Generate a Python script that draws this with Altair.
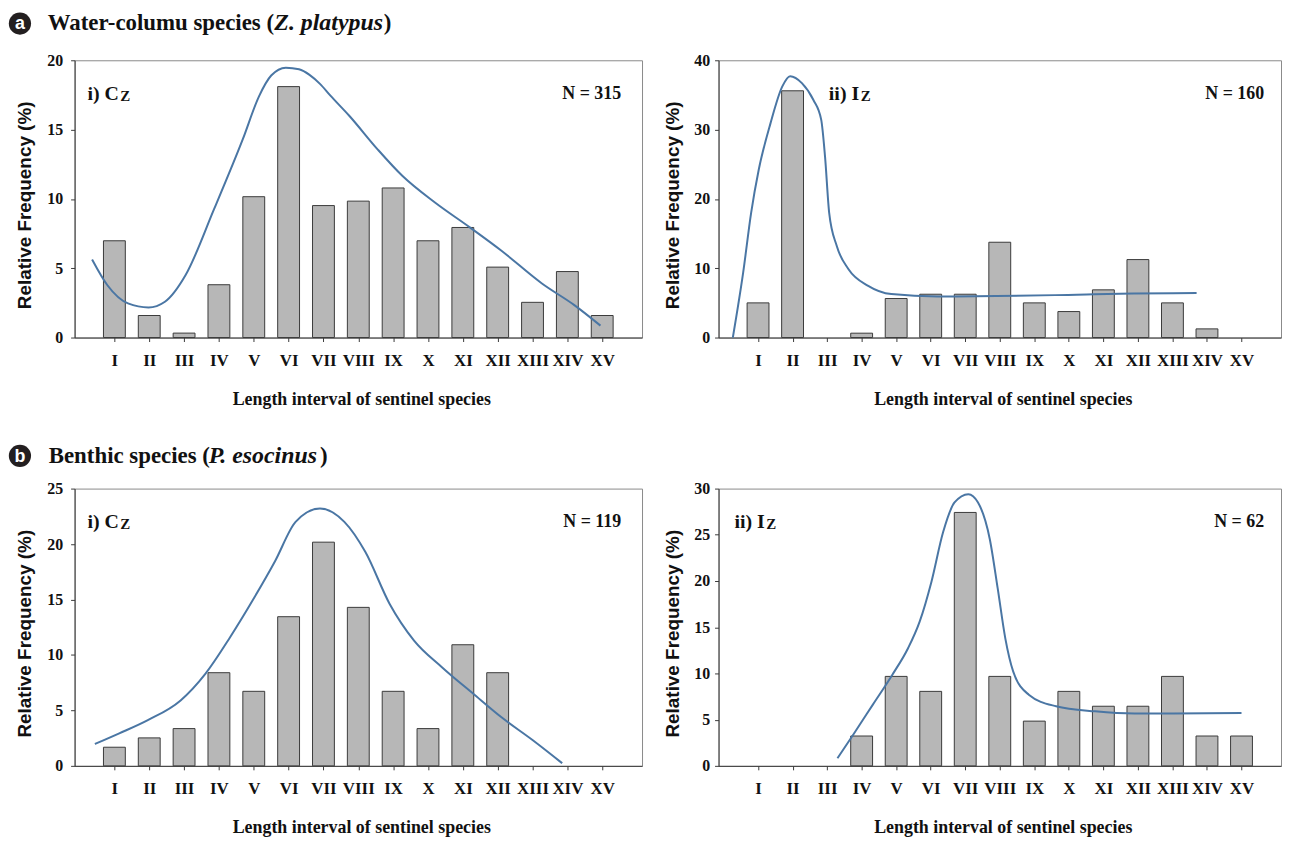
import altair as alt
import pandas as pd

# ---------------- data ----------------
ROMAN = ["I", "II", "III", "IV", "V", "VI", "VII", "VIII", "IX", "X",
         "XI", "XII", "XIII", "XIV", "XV"]
CLASS_POS = list(range(1, 16))

# (a) Water-column species, i) Cz  N = 315
A_CZ = [6.98, 1.59, 0.32, 3.81, 10.16, 18.10, 9.52, 9.84, 10.79, 6.98,
        7.94, 5.08, 2.54, 4.76, 1.59]
A_CZ_FIT_X = [0.36, 0.8, 1.39, 1.98, 2.45, 3.04, 3.86, 4.68, 5.15, 5.5, 5.92,
              6.3, 6.6, 6.9, 7.2, 7.74, 8.56, 9.27, 10.2, 11.2, 12.1, 13.27,
              14.2, 14.95]
A_CZ_FIT_Y = [5.63, 3.77, 2.46, 2.17, 2.58, 4.49, 9.26, 14.27, 17.4, 18.9, 19.47,
              19.35, 18.95, 18.3, 17.45, 16.0, 13.56, 11.65, 9.74, 7.95, 6.28,
              3.9, 2.34, 0.86]

# (a) ii) Iz  N = 160
A_IZ = [5.0, 35.6, 0.0, 0.63, 5.63, 6.25, 6.25, 13.75, 5.0, 3.75,
        6.88, 11.25, 5.0, 1.25, 0.0]
A_IZ_FIT_X = [0.27, 0.57, 0.8, 1.02, 1.36, 1.7, 1.93, 2.27, 2.6, 2.83, 2.94,
              3.06, 3.28, 3.62, 4.19, 4.86, 6.2, 7.9, 9.6, 11.87, 13.7]
A_IZ_FIT_Y = [0.0, 9.4, 18.0, 24.2, 30.9, 36.2, 37.7, 36.7, 34.3, 31.4, 26.1,
              18.0, 13.2, 9.86, 7.46, 6.27, 5.93, 5.98, 6.12, 6.36, 6.41]

# (b) Benthic species, i) Cz  N = 119
B_CZ = [1.68, 2.52, 3.36, 8.40, 6.72, 13.45, 20.17, 14.29, 6.72, 3.36,
        10.92, 8.40, 0.0, 0.0, 0.0]
B_CZ_FIT_X = [0.44, 1.14, 1.96, 2.9, 3.61, 4.32, 5.02, 5.61, 6.2, 6.9, 7.6,
              8.2, 8.9, 9.6, 10.4, 11.3, 12.1, 13.0, 13.85]
B_CZ_FIT_Y = [1.97, 2.93, 4.12, 5.9, 8.3, 11.6, 15.2, 18.45, 22.0, 23.2, 22.0,
              19.3, 14.6, 11.3, 8.9, 6.5, 4.4, 2.33, 0.24]

# (b) ii) Iz  N = 62
B_IZ = [0.0, 0.0, 0.0, 3.23, 9.68, 8.06, 27.42, 9.68, 4.84, 8.06,
        6.45, 6.45, 9.68, 3.23, 3.23]
B_IZ_FIT_X = [3.3, 3.76, 4.32, 4.89, 5.34, 5.68, 6.02, 6.36, 6.69, 7.09, 7.37,
              7.71, 7.94, 8.16, 8.39, 8.84, 9.63, 10.76, 11.9, 13.02, 15.0]
B_IZ_FIT_Y = [0.82, 3.4, 6.6, 9.86, 12.7, 15.6, 19.9, 25.3, 28.5, 29.4, 28.5,
              24.55, 19.2, 13.8, 10.2, 7.7, 6.45, 5.9, 5.66, 5.66, 5.73]

X_TITLE = "Length interval of sentinel species"
Y_TITLE = "Relative Frequency (%)"

# ---------------- style ----------------
SERIF = "Liberation Serif"
SANS = "Liberation Sans"
BAR_FILL = "#b7b7b7"
BAR_STROKE = "#3a3a3a"
LINE_COLOR = "#4a76a4"
INK = "#111111"

LABEL_EXPR = "[" + ",".join("'%s'" % r for r in ROMAN) + "][datum.value - 1]"

LEFT_W, RIGHT_W, PANEL_H = 571, 566, 279


def txt(s, x, y, size, font=SERIF, style="normal", align="left",
        baseline="alphabetic", color=INK, weight="bold"):
    return alt.Chart(pd.DataFrame({"t": [s]})).mark_text(
        align=align, baseline=baseline, font=font, fontSize=size,
        fontWeight=weight, fontStyle=style, color=color
    ).encode(text="t:N", x=alt.value(x), y=alt.value(y))


def header(letter, parts, y):
    badge = alt.Chart(pd.DataFrame({"t": [letter]})).mark_point(
        shape="circle", filled=True, size=500, color="#231f20", opacity=1
    ).encode(x=alt.value(-55), y=alt.value(y))
    layers = [badge, txt(letter, -55, y + 1, 18, font=SANS, align="center",
                         baseline="middle", color="white")]
    for s, x, style, size in parts:
        layers.append(txt(s, x, y, size, style=style, baseline="middle"))
    return layers


def panel(values, fit_x, fit_y, ymax, ystep, width, tag_main, tag_x, sub_x,
          n_text, n_right, ytitle_x, ylabel_pad, extra=None):
    bars_df = pd.DataFrame({"pos": CLASS_POS, "pct": values, "cls": ROMAN})
    fit_df = pd.DataFrame({"pos": fit_x, "pct": fit_y})
    xscale = alt.Scale(domain=[0, 16], nice=False, zero=False)
    yscale = alt.Scale(domain=[0, ymax], nice=False)
    xaxis = alt.Axis(
        values=CLASS_POS, labelExpr=LABEL_EXPR, title=X_TITLE, grid=False,
        tickSize=4, labelPadding=19, labelBaseline="middle",
        labelFont=SERIF, labelFontSize=17, labelFontWeight="bold",
        labelColor=INK, titleFont=SERIF, titleFontSize=18,
        titleFontWeight="bold", titleColor=INK, titleX=width / 2 + 3,
        titleY=62, titleBaseline="middle", labelFlush=False,
    )
    yaxis = alt.Axis(
        values=list(range(0, ymax + 1, ystep)), title=Y_TITLE, grid=False,
        tickSize=4, labelPadding=ylabel_pad, labelFont=SERIF,
        labelFontSize=16, labelFontWeight="bold", labelColor=INK,
        titleFont=SANS, titleFontSize=19, titleFontWeight="bold",
        titleColor=INK, titleX=ytitle_x, titleY=PANEL_H / 2 + 6,
        titleBaseline="middle", titleAngle=270, labelFlush=False,
    )
    bars = alt.Chart(bars_df).transform_filter("datum.pct > 0").mark_bar(
        size=22, fill=BAR_FILL, stroke=BAR_STROKE, strokeWidth=1,
        orient="vertical"
    ).encode(
        x=alt.X("pos:Q", scale=xscale, axis=xaxis),
        y=alt.Y("pct:Q", scale=yscale, axis=yaxis),
    )
    line = alt.Chart(fit_df).mark_line(
        color=LINE_COLOR, strokeWidth=2, interpolate="monotone"
    ).encode(
        x=alt.X("pos:Q", scale=xscale, axis=xaxis),
        y=alt.Y("pct:Q", scale=yscale, axis=yaxis),
    )
    layers = [bars, line,
              txt(tag_main, tag_x, 40, 20),
              txt("Z", sub_x, 41, 15),
              txt(n_text, width - n_right, 39, 18, align="right")]
    if extra:
        layers += extra
    return alt.layer(*layers).properties(width=width, height=PANEL_H)


a_i = panel(A_CZ, A_CZ_FIT_X, A_CZ_FIT_Y, 20, 5, LEFT_W, "i) C", 13, 46,
            "N = 315", 21, -50, 8,
            extra=header("a", [("Water-columu species (", -27, "normal", 23),
                               ("Z. platypus", 201, "italic", 24),
                               (")", 311, "normal", 23)], -37))
a_ii = panel(A_IZ, A_IZ_FIT_X, A_IZ_FIT_Y, 40, 10, RIGHT_W, "ii) I", 111, 143,
             "N = 160", 17, -46, 5)
b_i = panel(B_CZ, B_CZ_FIT_X, B_CZ_FIT_Y, 25, 5, LEFT_W, "i) C", 13, 46,
            "N = 119", 21, -50, 8,
            extra=header("b", [("Benthic species (", -26, "normal", 23),
                               ("P. esocinus", 135, "italic", 24),
                               (")", 247, "normal", 23)], -33))
b_ii = panel(B_IZ, B_IZ_FIT_X, B_IZ_FIT_Y, 30, 5, RIGHT_W, "ii) I", 16, 48,
             "N = 62", 17, -46, 5)

chart = alt.vconcat(
    alt.hconcat(a_i, a_ii, spacing=20),
    alt.hconcat(b_i, b_ii, spacing=20),
    spacing=34,
).properties(
    padding={"left": 0, "top": 0, "right": 0, "bottom": 0},
    background="white",
).configure_view(
    stroke="#8a8a8a", strokeWidth=1
).configure_axis(
    domainColor="#3a3a3a", tickColor="#3a3a3a", domainWidth=1
)

chart.save("out.html", embed_options={"renderer": "svg", "actions": False})
